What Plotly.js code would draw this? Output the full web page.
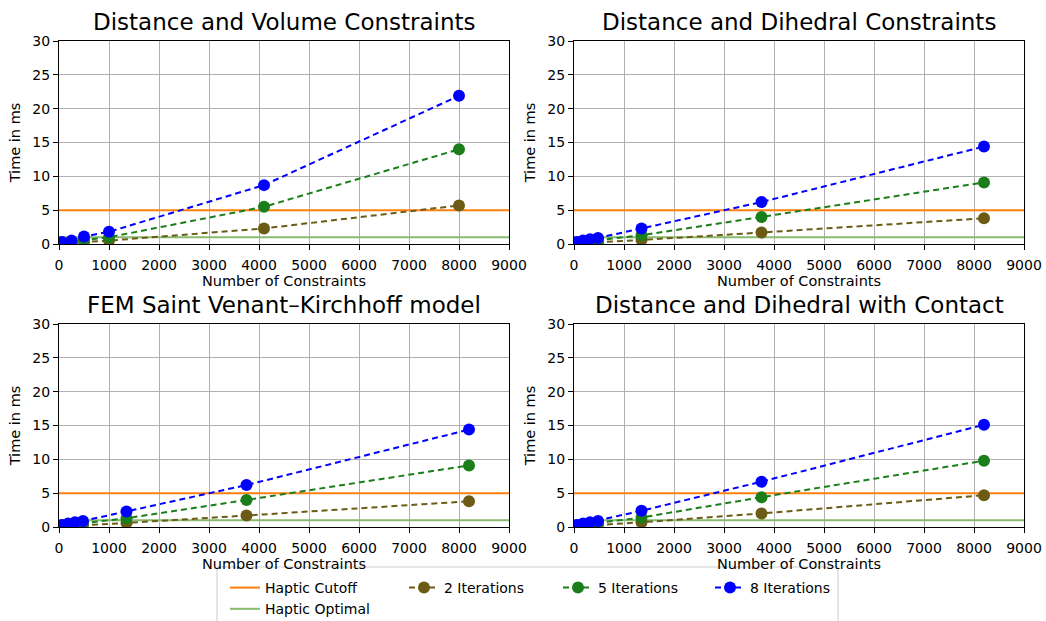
<!DOCTYPE html>
<html>
<head>
<meta charset="utf-8">
<script src="https://cdn.plot.ly/plotly-3.0.1.min.js"></script>
<style>html,body{margin:0;padding:0;background:#fff;}#chart{width:1046px;height:621px;}</style>
</head>
<body>
<div id="chart"></div>
<script>
// ---- data ----
const panelTitles = ["Distance and Volume Constraints", "Distance and Dihedral Constraints",
                     "FEM Saint Venant\u2013Kirchhoff model", "Distance and Dihedral with Contact"];
const seriesNames = ["2 Iterations", "5 Iterations", "8 Iterations"];
const xRangeLine = [0, 9000];
const hapticCutoff = 5;
const hapticOptimal = 1;

const x1 = [60, 250, 500, 1000, 4100, 8000];
const p1_it2 = [0.1, 0.15, 0.3, 0.5, 2.3, 5.7];
const p1_it5 = [0.15, 0.3, 0.6, 1.0, 5.5, 14.0];
const p1_it8 = [0.3, 0.5, 1.1, 1.8, 8.7, 21.9];

const x2 = [60, 180, 320, 480, 1350, 3750, 8200];
const p2_it2 = [0.1, 0.15, 0.2, 0.25, 0.6, 1.7, 3.8];
const p2_it5 = [0.2, 0.3, 0.45, 0.55, 1.3, 4.0, 9.1];
const p2_it8 = [0.3, 0.5, 0.7, 0.9, 2.3, 6.2, 14.4];

const x3 = [60, 180, 320, 480, 1350, 3750, 8200];
const p3_it2 = [0.1, 0.15, 0.2, 0.25, 0.6, 1.7, 3.8];
const p3_it5 = [0.2, 0.3, 0.45, 0.55, 1.3, 4.0, 9.1];
const p3_it8 = [0.3, 0.5, 0.7, 0.9, 2.3, 6.2, 14.4];

const x4 = [60, 180, 320, 480, 1350, 3750, 8200];
const p4_it2 = [0.1, 0.15, 0.25, 0.3, 0.7, 2.0, 4.7];
const p4_it5 = [0.2, 0.3, 0.45, 0.6, 1.4, 4.4, 9.8];
const p4_it8 = [0.3, 0.5, 0.7, 0.9, 2.4, 6.7, 15.1];

const xTicks = [0,1000,2000,3000,4000,5000,6000,7000,8000,9000];
const yTicks = [0,5,10,15,20,25,30];

// ---- styles ----
const colors = ["#6b5b14", "#1a7f1a", "#0000ff"];
const cutoffColor = "#ff7f0e";
const optimalColor = "#88bb70";
const FONT = "DejaVu Sans, sans-serif";

const panels = [
  {x: x1, ys: [p1_it2, p1_it5, p1_it8]},
  {x: x2, ys: [p2_it2, p2_it5, p2_it8]},
  {x: x3, ys: [p3_it2, p3_it5, p3_it8]},
  {x: x4, ys: [p4_it2, p4_it5, p4_it8]}
];
const W = 1046, H = 621;
const px = v => v / W, py = v => 1 - v / H;
const xDom = [[px(59), px(509)], [px(574), px(1024)], [px(59), px(509)], [px(574), px(1024)]];
const yDom = [[py(244), py(41)], [py(244), py(41)], [py(527), py(324)], [py(527), py(324)]];
const titleY = [22, 22, 305, 305];

const traces = [];
const legendOf = ["legend2", "legend3", "legend4"];
panels.forEach((p, i) => {
  const xa = i === 0 ? "x" : "x" + (i + 1);
  const ya = i === 0 ? "y" : "y" + (i + 1);
  traces.push({x: xRangeLine, y: xRangeLine.map(() => hapticCutoff), xaxis: xa, yaxis: ya,
    mode: "lines", line: {color: cutoffColor, width: 2}, name: "Haptic Cutoff",
    showlegend: i === 0, legend: "legend", legendrank: 1, hoverinfo: "skip"});
  traces.push({x: xRangeLine, y: xRangeLine.map(() => hapticOptimal), xaxis: xa, yaxis: ya,
    mode: "lines", line: {color: optimalColor, width: 2}, name: "Haptic Optimal",
    showlegend: i === 0, legend: "legend", legendrank: 2, hoverinfo: "skip"});
  p.ys.forEach((ys, k) => {
    traces.push({x: p.x, y: ys, xaxis: xa, yaxis: ya, mode: "lines+markers",
      line: {color: colors[k], width: 2, dash: "6px,4px"},
      marker: {color: colors[k], size: 12},
      name: seriesNames[k], showlegend: i === 0, legend: legendOf[k]});
  });
});

const layout = {
  width: W, height: H,
  margin: {l: 0, r: 0, t: 0, b: 0, autoexpand: false},
  paper_bgcolor: "#fff", plot_bgcolor: "#fff",
  font: {family: FONT, size: 14, color: "#000"},
  showlegend: true,
  annotations: [],
  shapes: [{type: "rect", xref: "paper", yref: "paper",
    x0: px(217), x1: px(838), y0: py(623), y1: py(567),
    line: {color: "#cccccc", width: 1}, fillcolor: "rgba(255,255,255,0.8)", layer: "below"}]
};
const legBase = {orientation: "v", bgcolor: "rgba(0,0,0,0)", borderwidth: 0,
  xanchor: "left", yanchor: "top", font: {family: FONT, size: 14, color: "#000"},
  tracegroupgap: 0, itemwidth: 30};
layout.legend = Object.assign({}, legBase, {x: px(225), y: py(572)});
layout.legend2 = Object.assign({}, legBase, {x: px(404), y: py(572)});
layout.legend3 = Object.assign({}, legBase, {x: px(558), y: py(572)});
layout.legend4 = Object.assign({}, legBase, {x: px(710), y: py(572)});

for (let i = 0; i < 4; i++) {
  const sfx = i === 0 ? "" : String(i + 1);
  layout["xaxis" + sfx] = {
    domain: xDom[i], anchor: "y" + sfx, range: [0, 9000],
    tickmode: "array", tickvals: xTicks, ticktext: xTicks.map(String),
    showgrid: true, gridcolor: "#b0b0b0", gridwidth: 1,
    showline: true, linecolor: "#000", linewidth: 1, mirror: true,
    ticks: "outside", ticklen: 5, tickcolor: "#000", ticklabelstandoff: 3,
    zeroline: false, tickfont: {family: FONT, size: 14}, automargin: false,
    title: {text: "Number of Constraints", font: {family: FONT, size: 14.5}, standoff: 2}
  };
  layout["yaxis" + sfx] = {
    domain: yDom[i], anchor: "x" + sfx, range: [0, 30],
    tickmode: "array", tickvals: yTicks, ticktext: yTicks.map(String),
    showgrid: true, gridcolor: "#b0b0b0", gridwidth: 1,
    showline: true, linecolor: "#000", linewidth: 1, mirror: true,
    ticks: "outside", ticklen: 5, tickcolor: "#000", automargin: false,
    zeroline: false, tickfont: {family: FONT, size: 14},
    title: {text: "Time in ms", font: {family: FONT, size: 14.5}, standoff: 8}
  };
  layout.annotations.push({text: panelTitles[i], xref: "paper", yref: "paper",
    x: (xDom[i][0] + xDom[i][1]) / 2, y: py(titleY[i]), xanchor: "center", yanchor: "middle",
    showarrow: false, font: {family: FONT, size: 23, color: "#000"}});
}

Plotly.newPlot("chart", traces, layout, {displayModeBar: false, staticPlot: true});
</script>
</body>
</html>
